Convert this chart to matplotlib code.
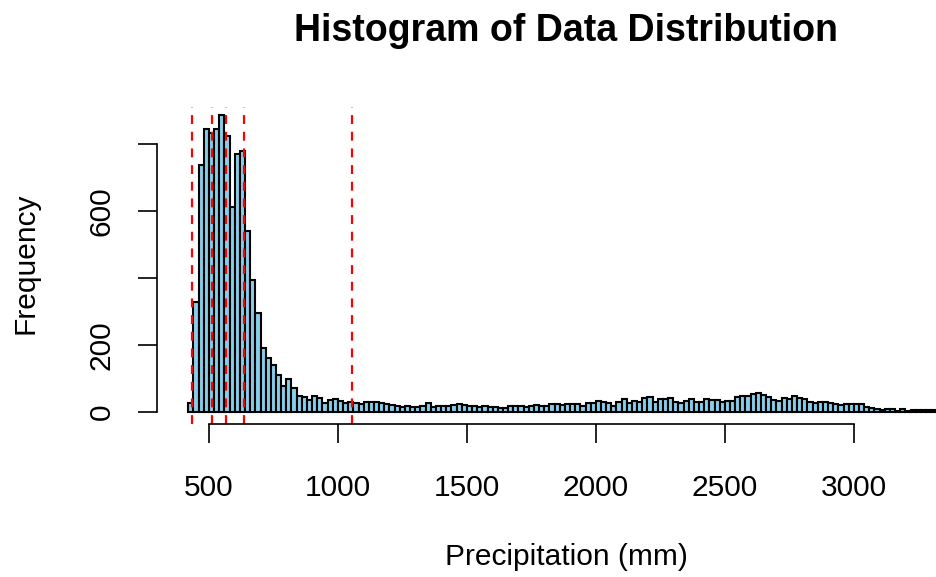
import matplotlib
matplotlib.use("Agg")
import matplotlib.pyplot as plt
import numpy as np

plt.rcParams['font.family'] = ['Liberation Sans', 'DejaVu Sans']

# histogram counts, 20 mm bins starting at 420 mm
bin_start = 420
bin_width = 20
counts = [
    25, 327, 739, 845, 832, 845, 887, 825, 611, 772,      # 420-
    780, 540, 393, 295, 190, 162, 140, 110, 77, 99,        # 620-
    70, 47, 45, 35, 48, 40, 27, 35, 37, 33,                # 820-
    27, 28, 27, 23, 30, 30, 28, 26, 22, 20,                # 1020-
    18, 15, 18, 15, 14, 17, 27, 15, 17, 18,                # 1220-
    17, 20, 22, 20, 18, 17, 15, 17, 15, 14,                # 1420-
    10, 11, 18, 17, 16, 15, 16, 19, 17, 16,                # 1620-
    22, 22, 20, 22, 22, 22, 17, 25, 25, 33,                # 1820-
    30, 27, 18, 30, 37, 27, 33, 28, 40, 45,                # 2020-
    30, 37, 37, 40, 30, 27, 33, 38, 30, 30,                # 2220-
    38, 35, 35, 30, 33, 32, 44, 48, 48, 54,                # 2420-
    55, 50, 45, 35, 33, 42, 37, 47, 40, 38,                # 2620-
    28, 25, 30, 28, 25, 22, 20, 22, 24, 22,                # 2820-
    22, 14, 10, 8, 5, 7, 7, 3, 9, 3,                       # 3020-
    4, 4, 4, 5, 4, 3, 3, 2, 2, 2,                          # 3220-
]
edges = bin_start + bin_width * np.arange(len(counts) + 1)

# summary values marked with dashed lines
ref_lines = [434, 512, 568, 636, 1053]

x_ticks = [500, 1000, 1500, 2000, 2500, 3000]
y_ticks = [0, 200, 400, 600, 800]
y_ticklabels = ['0', '200', '', '600', '']

fig = plt.figure(figsize=(9.37, 5.77), dpi=100)
ax = fig.add_axes([0.1679, 0.2659, 0.892, 0.555])

ax.bar(edges[:-1], counts, width=bin_width, align='edge',
       color='#87CEEB', edgecolor='black', linewidth=1.5)

for v in ref_lines:
    ax.axvline(v, ymax=0.99, color='red', linestyle=(0, (4, 3.5)), linewidth=1.6)

ax.set_xlim(300, 3540)
ax.set_ylim(-35.5, 922)

for s in ['top', 'right']:
    ax.spines[s].set_visible(False)
ax.spines['bottom'].set_bounds(500, 3000)
ax.spines['left'].set_bounds(0, 800)
ax.spines['bottom'].set_linewidth(1.2)
ax.spines['left'].set_linewidth(1.2)

ax.set_xticks(x_ticks)
ax.set_xticklabels([str(t) for t in x_ticks])
ax.set_yticks(y_ticks)
ax.set_yticklabels(y_ticklabels, rotation=90, va='center')
ax.tick_params(axis='both', length=14, width=1.2, labelsize=21.5)
ax.tick_params(axis='x', pad=22)
ax.tick_params(axis='y', pad=16)

# title and x label sit over the visible part of the plot region
ax.set_title('Histogram of Data Distribution', fontsize=27,
             fontweight='bold', pad=45, x=0.489)
ax.set_xlabel('Precipitation (mm)', fontsize=21.5, labelpad=30)
ax.xaxis.label.set_x(0.489)
ax.set_ylabel('Frequency', fontsize=21.5, labelpad=35)

fig.savefig('out.png', dpi=100)
